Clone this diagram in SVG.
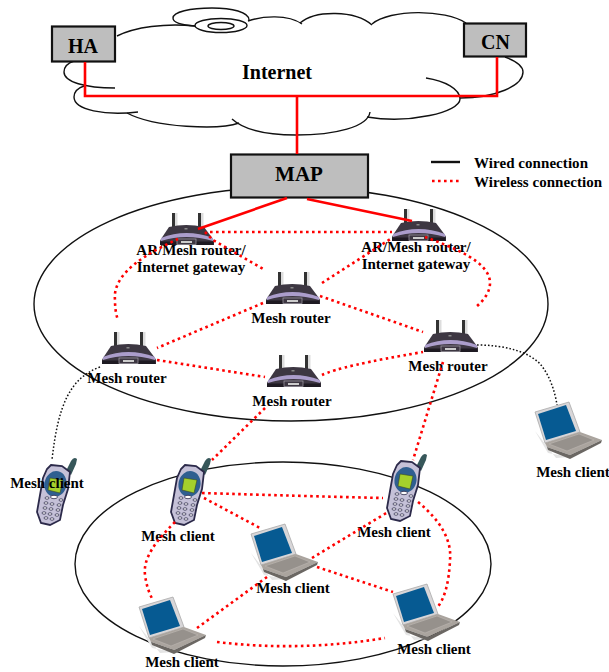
<svg xmlns="http://www.w3.org/2000/svg" xmlns:xlink="http://www.w3.org/1999/xlink" width="609" height="672" viewBox="0 0 609 672">
<style>
text{font-family:"Liberation Serif","Times New Roman",serif;font-weight:bold;fill:#000;text-anchor:middle}
.lb{font-size:15px}
.bx{fill:#bebebe;stroke:#111;stroke-width:2.2}
.ln{fill:none;stroke:#111;stroke-width:1.4}
.wired{fill:none;stroke:#f00;stroke-width:2.6}
.wl{fill:none;stroke:#f00;stroke-width:2.6;stroke-dasharray:2.6 3.4}
.bd{fill:none;stroke:#111;stroke-width:1.5;stroke-dasharray:1.6 2}
</style>
<defs>
<symbol id="router" overflow="visible">
<rect x="15" y="0" width="2.500" height="14" fill="#ddd"/><rect x="41" y="0" width="2.500" height="14" fill="#ddd"/>
<rect x="12" y="0" width="3" height="14" fill="#333"/><rect x="38" y="0" width="3" height="14" fill="#333"/>
<path d="M9 14Q26 10 44 14L53 26L54 28V32H0V28L1 26Z" fill="#3d3742"/>
<path d="M1 25Q26 15 53 25L53 28Q26 20 1 28Z" fill="#ab9dcb"/>
<rect x="0" y="28.500" width="53.500" height="3.500" fill="#1e1a22"/>
<rect x="17" y="26" width="19" height="5.500" fill="#3d3742" stroke="#a5a1aa" stroke-width=".7"/>
<rect x="21" y="28" width="11" height="2" fill="#ccc"/>
<rect x="24.500" y="15" width="3" height="1.500" fill="#888"/>
</symbol>
<symbol id="phone" overflow="visible">
<path d="M28 13L33 3Q36 -2 39 1L38 6L33 17Z" fill="#37575a"/>
<path d="M13 7L24 8L32 14L30 31L25 47L22 62L12 67L3 65L-1 54L2 37L5 20L9 11Z" fill="#c5c1d8" stroke="#2c2a4a" stroke-width="1.800"/>
<ellipse cx="17.500" cy="26" rx="11" ry="13" fill="#2f5f90" transform="rotate(12 17.500 26)"/>
<path d="M12 20L25 22L22 35L10 32Z" fill="#a5d02c" stroke="#3a4a20" stroke-width=".6"/>
<g fill="#fff" stroke="#2c2a4a" stroke-width=".8">
<ellipse cx="16" cy="39" rx="3.500" ry="1.700"/>
<ellipse cx="9" cy="40" rx="2" ry="1.200"/><ellipse cx="23" cy="42" rx="2" ry="1.200"/>
<ellipse cx="8" cy="45" rx="2" ry="1.200"/><ellipse cx="14" cy="46" rx="2" ry="1.200"/><ellipse cx="21" cy="47" rx="2" ry="1.200"/>
<ellipse cx="7" cy="50" rx="2" ry="1.200"/><ellipse cx="13" cy="51" rx="2" ry="1.200"/><ellipse cx="20" cy="52" rx="2" ry="1.200"/>
<ellipse cx="6" cy="55" rx="2" ry="1.200"/><ellipse cx="12" cy="56" rx="2" ry="1.200"/><ellipse cx="19" cy="57" rx="2" ry="1.200"/>
<ellipse cx="8" cy="60" rx="2" ry="1.200"/><ellipse cx="14" cy="61" rx="2" ry="1.200"/>
</g>
</symbol>
<symbol id="laptop" overflow="visible">
<path d="M1 30L12 44L22 57L36 56L14 52Z" fill="#e4e4e4"/>
<path d="M1 11L35 1L46 31L11 42Z" fill="#d8d6d8" stroke="#aaa" stroke-width=".8"/>
<path d="M4 13L32 4L42 30L12 39Z" fill="#065a92"/>
<path d="M11 42L46 31L68 39L36 54L13 46Z" fill="#aaa49e"/>
<path d="M15 43L45 33L60 39L33 50Z" fill="#96918c" stroke="#c2bdb8" stroke-width=".5"/>
<path d="M13 46L36 54L68 39L67 42L36 58L14 49Z" fill="#6b6763"/>
</symbol>
</defs>
<g id="ellipses">
<ellipse class="ln" cx="291" cy="304" rx="257" ry="117"/>
<ellipse class="ln" cx="283" cy="564" rx="208" ry="102"/>
</g>
<g id="internet-cloud">
<path class="ln" d="M117 36C135 27 165 23 195 26"/>
<path class="ln" d="M195 26C180 25 173 22 173 18C173 12 190 8 212 8C232 8 249 12 249 20"/>
<ellipse class="ln" cx="221" cy="25.500" rx="26" ry="7"/>
<ellipse class="ln" cx="221" cy="26" rx="13" ry="3.500"/>
<path class="ln" d="M248 21C262 16 288 14 302 24"/>
<path class="ln" d="M300 23C315 10 355 10 372 25"/>
<path class="ln" d="M372 24C390 9 445 9 466 23"/>
<path class="ln" d="M505 57C516 61 523 66 523 72C523 86 495 98 460 98"/>
<path class="ln" d="M426 78C445 81 460 89 460 99C460 112 410 124 367 117"/>
<path class="ln" d="M370 112C368 127 335 135 296 135C268 135 244 130 232 119"/>
<path class="ln" d="M239 123C220 130 155 128 127 113"/>
<path class="ln" d="M138 112C105 116 74 110 74 97C74 92 78 88 84 86"/>
<path class="ln" d="M115 88C85 88 64 82 64 72C64 67 68 63 74 61"/>
<text x="277" y="79" style="font-size:20px">Internet</text>
</g>
<g id="legend">
<path d="M431 162H460" stroke="#111" stroke-width="2.400" fill="none"/>
<path class="wl" d="M432 181H460"/>
<text x="531" y="168" class="lb" textLength="114">Wired connection</text>
<text x="538" y="187" class="lb" textLength="128">Wireless connection</text>
</g>
<g id="ha"><rect class="bx" x="52" y="26.500" width="63" height="35"/><text x="83" y="53" style="font-size:20px">HA</text></g>
<g id="cn"><rect class="bx" x="464" y="23.500" width="62" height="33"/><text x="495.500" y="49" style="font-size:20px">CN</text></g>
<g id="map"><rect class="bx" x="231" y="154.500" width="137" height="43"/><text x="299" y="181" style="font-size:21px">MAP</text></g>
<g id="router-gw1"><use xlink:href="#router" href="#router" x="160" y="213"/><text class="lb" x="191" y="255">AR/Mesh router/</text><text class="lb" x="191" y="272">Internet gateway</text></g>
<g id="router-gw2"><use xlink:href="#router" href="#router" x="392" y="209"/><text class="lb" x="416" y="252">AR/Mesh router/</text><text class="lb" x="416" y="269">Internet gateway</text></g>
<g id="router-center"><use xlink:href="#router" href="#router" x="266" y="272"/><text class="lb" x="291" y="323">Mesh router</text></g>
<g id="router-left"><use xlink:href="#router" href="#router" x="102" y="332"/><text class="lb" x="127" y="383">Mesh router</text></g>
<g id="router-low"><use xlink:href="#router" href="#router" x="267" y="355"/><text class="lb" x="292" y="406">Mesh router</text></g>
<g id="router-right"><use xlink:href="#router" href="#router" x="424" y="320"/><text class="lb" x="448" y="371">Mesh router</text></g>
<g id="client-laptop-out"><use xlink:href="#laptop" href="#laptop" x="534" y="401"/><text class="lb" x="573" y="477">Mesh client</text></g>
<g id="client-phone-out"><use xlink:href="#phone" href="#phone" x="38" y="458"/><text class="lb" x="47" y="488">Mesh client</text></g>
<g id="client-phone-1"><use xlink:href="#phone" href="#phone" x="172" y="458"/><text class="lb" x="178" y="541">Mesh client</text></g>
<g id="client-phone-2"><use xlink:href="#phone" href="#phone" x="388" y="454"/><text class="lb" x="394" y="537">Mesh client</text></g>
<g id="client-laptop-center"><use xlink:href="#laptop" href="#laptop" x="250" y="523"/><text class="lb" x="293" y="593">Mesh client</text></g>
<g id="client-laptop-bl"><use xlink:href="#laptop" href="#laptop" x="138" y="596"/><text class="lb" x="182" y="667">Mesh client</text></g>
<g id="client-laptop-br"><use xlink:href="#laptop" href="#laptop" x="392" y="583"/><text class="lb" x="434" y="654">Mesh client</text></g>
<g id="connectors">
<path class="wired" d="M85 62V96H497V57"/>
<path class="wired" d="M297 96V154"/>
<path class="wired" d="M287 198L198 229"/>
<path class="wired" d="M307 199L412 221"/>
<path class="wl" d="M210 232H392"/>
<path class="wl" d="M178 239C150 252 112 272 115 300Q115 312 118 320"/>
<path class="wl" d="M205 232L213 240L265 270"/>
<path class="wl" d="M263 303L157 348"/>
<path class="wl" d="M157 360L265 377"/>
<path class="wl" d="M322 283L392 238"/>
<path class="wl" d="M320 296L423 332"/>
<path class="wl" d="M322 375Q340 366 423 352"/>
<path class="wl" d="M425 237C455 248 490 262 490 283C490 292 484 300 477 306"/>
<path class="wl" d="M443 362L413 460"/>
<path class="wl" d="M265 408L212 460"/>
<path class="wl" d="M202 493Q300 496 383 498"/>
<path class="wl" d="M204 498L260 528"/>
<path class="wl" d="M175 522C155 542 143 558 145 575Q147 590 153 600"/>
<path class="wl" d="M267 577L197 628"/>
<path class="wl" d="M312 558L388 512"/>
<path class="wl" d="M317 567L393 592"/>
<path class="wl" d="M418 502C440 520 452 540 450 560C449 582 445 598 437 608"/>
<path class="wl" d="M217 642Q300 652 385 638"/>
<path class="bd" d="M477 345C505 345 530 352 541 365C550 376 555 392 557 405"/>
<path class="bd" d="M100 367C70 378 58 405 52 460"/>
</g>
</svg>
